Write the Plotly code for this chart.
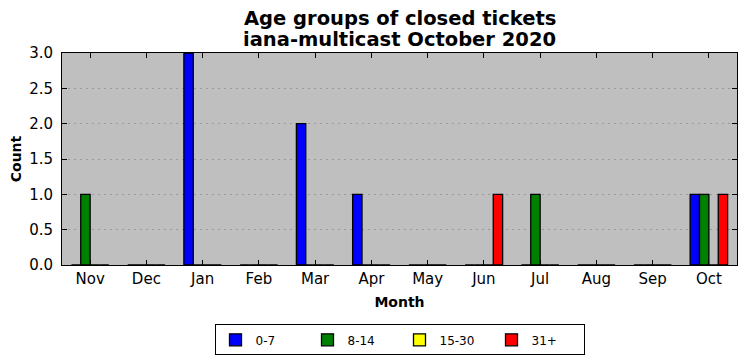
import plotly.graph_objects as go

months = ["Nov", "Dec", "Jan", "Feb", "Mar", "Apr", "May", "Jun", "Jul", "Aug", "Sep", "Oct"]
series_names = ["0-7", "8-14", "15-30", "31+"]
colors = ["#0000ff", "#008000", "#ffff00", "#ff0000"]
v_0_7 = [0, 0, 3, 0, 2, 1, 0, 0, 0, 0, 0, 1]
v_8_14 = [1, 0, 0, 0, 0, 0, 0, 0, 1, 0, 0, 1]
v_15_30 = [0, 0, 0, 0, 0, 0, 0, 0, 0, 0, 0, 0]
v_31p = [0, 0, 0, 0, 0, 0, 0, 1, 0, 0, 0, 1]
values = [v_0_7, v_8_14, v_15_30, v_31p]
title_lines = ["Age groups of closed tickets", "iana-multicast October 2020"]

xpos = list(range(len(months)))
w = 1 / 6
offsets = [-2 * w, -w, 0, w]

fig = go.Figure()
for name, col, vals, off in zip(series_names, colors, values, offsets):
    fig.add_trace(go.Bar(
        x=xpos, y=vals, name=name, width=w, offset=off,
        marker=dict(color=col, line=dict(color="black", width=1.3)),
    ))

font = "DejaVu Sans"
fig.update_layout(
    width=738, height=353,
    margin=dict(l=54, r=9, t=45, b=96, autoexpand=False),
    barmode="overlay",
    paper_bgcolor="white",
    plot_bgcolor="#bfbfbf",
    font=dict(family=font, size=14, color="black"),
    showlegend=True,
    legend=dict(
        orientation="h", x=0.5, xanchor="center", y=-0.28, yanchor="top",
        bordercolor="black", borderwidth=1, bgcolor="white",
        font=dict(family=font, size=12), traceorder="normal",
        entrywidth=47,
    ),
    xaxis=dict(
        range=[-0.5, 11.5], tickmode="array", tickvals=xpos, ticktext=months,
        ticks="inside", ticklen=5, tickcolor="black", mirror="ticks",
        showline=True, linecolor="black", linewidth=1, showgrid=False,
        zeroline=False, tickfont=dict(size=15), automargin=False,
        title=dict(text="<b>Month</b>", font=dict(size=14), standoff=10),
    ),
    yaxis=dict(
        range=[0, 3], tickmode="array", tickvals=[0, 0.5, 1, 1.5, 2, 2.5, 3],
        ticktext=["0.0", "0.5", "1.0", "1.5", "2.0", "2.5", "3.0"],
        ticks="inside", ticklen=5, tickcolor="black", mirror="ticks",
        showline=True, linecolor="black", linewidth=1,
        showgrid=True, gridcolor="#9a9a9a", griddash="2px,4px", gridwidth=1,
        zeroline=False, tickfont=dict(size=15), automargin=False,
        ticklabelstandoff=5,
        title=dict(text="<b>Count</b>", font=dict(size=14), standoff=5),
    ),
    annotations=[
        dict(text="<b>%s</b>" % title_lines[0], xref="paper", yref="paper",
             x=0.5, y=1.101, xanchor="center", yanchor="bottom", showarrow=False,
             font=dict(family=font, size=19.5, color="black")),
        dict(text="<b>%s</b>" % title_lines[1], xref="paper", yref="paper",
             x=0.5, y=1.002, xanchor="center", yanchor="bottom", showarrow=False,
             font=dict(family=font, size=19.5, color="black")),
    ],
)

fig.write_html("out.html")
